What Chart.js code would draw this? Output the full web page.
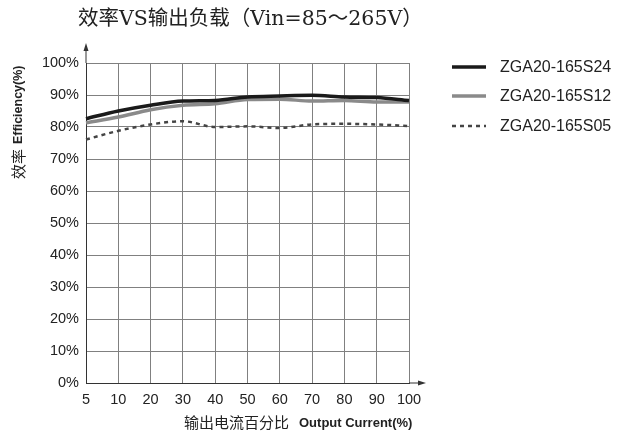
<!DOCTYPE html>
<html>
<head>
<meta charset="utf-8">
<script src="https://cdn.jsdelivr.net/npm/chart.js@4/dist/chart.umd.min.js"></script>
<style>
  html, body { margin: 0; padding: 0; background: #fff; }
  #wrap { width: 624px; height: 434px; }
</style>
</head>
<body>
<div id="wrap"><canvas id="graphique"></canvas></div>
<script>
// Charge en sortie (%)
const charges = ["5", "10", "20", "30", "40", "50", "60", "70", "80", "90", "100"];
const seriesNoms = ["ZGA20-165S24", "ZGA20-165S12", "ZGA20-165S05"];
// Rendement (%)
const rendementS24 = [82.6, 85.0, 86.8, 88.1, 88.3, 89.4, 89.7, 89.9, 89.4, 89.2, 88.3];
const rendementS12 = [81.3, 83.1, 85.4, 86.8, 87.3, 88.6, 88.7, 88.1, 88.3, 87.8, 87.8];
const rendementS05 = [76.1, 78.8, 80.8, 81.8, 80.0, 80.2, 79.7, 80.8, 81.0, 80.8, 80.3];
const ticksY = [0, 10, 20, 30, 40, 50, 60, 70, 80, 90, 100];

const titre = "效率VS输出负载（Vin=85～265V）";
const titreYcn = "效率";
const titreYen = "Efficiency(%)";
const titreXcn = "输出电流百分比";
const titreXen = "Output Current(%)";

const sans = "'Liberation Sans', Arial, sans-serif";
const cjk = "'Noto Sans CJK SC', sans-serif";

// Dessin du titre, des titres d'axes, des flèches et de la légende
const decor = {
  id: "decor",
  afterDraw(chart) {
    const ctx = chart.ctx;
    const a = chart.chartArea;
    ctx.save();

    // flèches des axes
    ctx.strokeStyle = "#333";
    ctx.fillStyle = "#333";
    ctx.lineWidth = 1;
    ctx.beginPath();
    ctx.moveTo(a.left, a.top);
    ctx.lineTo(a.left, a.top - 16);
    ctx.moveTo(a.right, a.bottom);
    ctx.lineTo(a.right + 14, a.bottom);
    ctx.stroke();
    ctx.beginPath();
    ctx.moveTo(a.left, a.top - 20);
    ctx.lineTo(a.left - 2.5, a.top - 12);
    ctx.lineTo(a.left + 2.5, a.top - 12);
    ctx.closePath();
    ctx.fill();
    ctx.beginPath();
    ctx.moveTo(a.right + 17, a.bottom);
    ctx.lineTo(a.right + 9, a.bottom - 2.5);
    ctx.lineTo(a.right + 9, a.bottom + 2.5);
    ctx.closePath();
    ctx.fill();

    // titre
    ctx.fillStyle = "#222";
    ctx.textBaseline = "middle";
    ctx.textAlign = "left";
    ctx.font = "20.5px 'DejaVu Serif', 'Noto Sans CJK SC', serif";
    ctx.fillText(titre, 78, 20);

    // titre de l'axe X
    ctx.font = "15px " + cjk;
    ctx.fillText(titreXcn, 184, 422);
    const wx = ctx.measureText(titreXcn).width;
    ctx.font = "bold 13px " + sans;
    ctx.fillText(titreXen, 184 + wx + 10, 423);

    // titre de l'axe Y (vertical)
    ctx.save();
    ctx.translate(18, 179);
    ctx.rotate(-Math.PI / 2);
    ctx.font = "15px " + cjk;
    ctx.fillText(titreYcn, 0, 0);
    const wy = ctx.measureText(titreYcn).width;
    ctx.font = "bold 12.5px " + sans;
    ctx.fillText(titreYen, wy + 5, 1);
    ctx.restore();

    // légende
    const ys = [67, 96, 126];
    chart.data.datasets.forEach((ds, i) => {
      ctx.strokeStyle = ds.borderColor;
      ctx.lineWidth = ds.borderWidth;
      ctx.setLineDash(ds.borderDash || []);
      ctx.beginPath();
      ctx.moveTo(452, ys[i]);
      ctx.lineTo(486, ys[i]);
      ctx.stroke();
      ctx.setLineDash([]);
      ctx.fillStyle = "#222";
      ctx.font = "16px " + sans;
      ctx.fillText(ds.label, 500, ys[i] + 1);
    });
    ctx.restore();
  }
};

const config = {
  type: "line",
  data: {
    labels: charges,
    datasets: [
      {
        label: seriesNoms[0],
        data: rendementS24,
        borderColor: "#1a1a1a",
        borderWidth: 3.5,
      },
      {
        label: seriesNoms[1],
        data: rendementS12,
        borderColor: "#8a8a8a",
        borderWidth: 3.5,
      },
      {
        label: seriesNoms[2],
        data: rendementS05,
        borderColor: "#444",
        borderWidth: 2.5,
        borderDash: [4, 4],
      },
    ],
  },
  options: {
    responsive: false,
    animation: false,
    devicePixelRatio: 1,
    layout: { padding: { left: 0, top: 63, right: 215, bottom: 0 } },
    elements: {
      point: { radius: 0 },
      line: { tension: 0.4, cubicInterpolationMode: "monotone", fill: false },
    },
    plugins: {
      legend: { display: false },
      tooltip: { enabled: false },
    },
    scales: {
      x: {
        offset: false,
        afterFit(scale) { scale.height = 51; },
        grid: { color: "#808080", lineWidth: 1, drawTicks: false, offset: false },
        border: { color: "#333", width: 1 },
        ticks: {
          color: "#222",
          font: { family: sans, size: 14.5 },
          padding: 8,
          maxRotation: 0,
          autoSkip: false,
        },
      },
      y: {
        min: 0,
        max: 100,
        afterFit(scale) { scale.width = 86; },
        afterBuildTicks(scale) { scale.ticks = ticksY.map((v) => ({ value: v })); },
        grid: { color: "#808080", lineWidth: 1, drawTicks: false },
        border: { color: "#333", width: 1 },
        ticks: {
          color: "#222",
          font: { family: sans, size: 14.5 },
          padding: 7,
          callback: (v) => v + "%",
        },
      },
    },
  },
  plugins: [decor],
};

const canvas = document.querySelector("#graphique");
canvas.width = 624;
canvas.height = 434;
const graphique = new Chart(canvas, config);
</script>
</body>
</html>
